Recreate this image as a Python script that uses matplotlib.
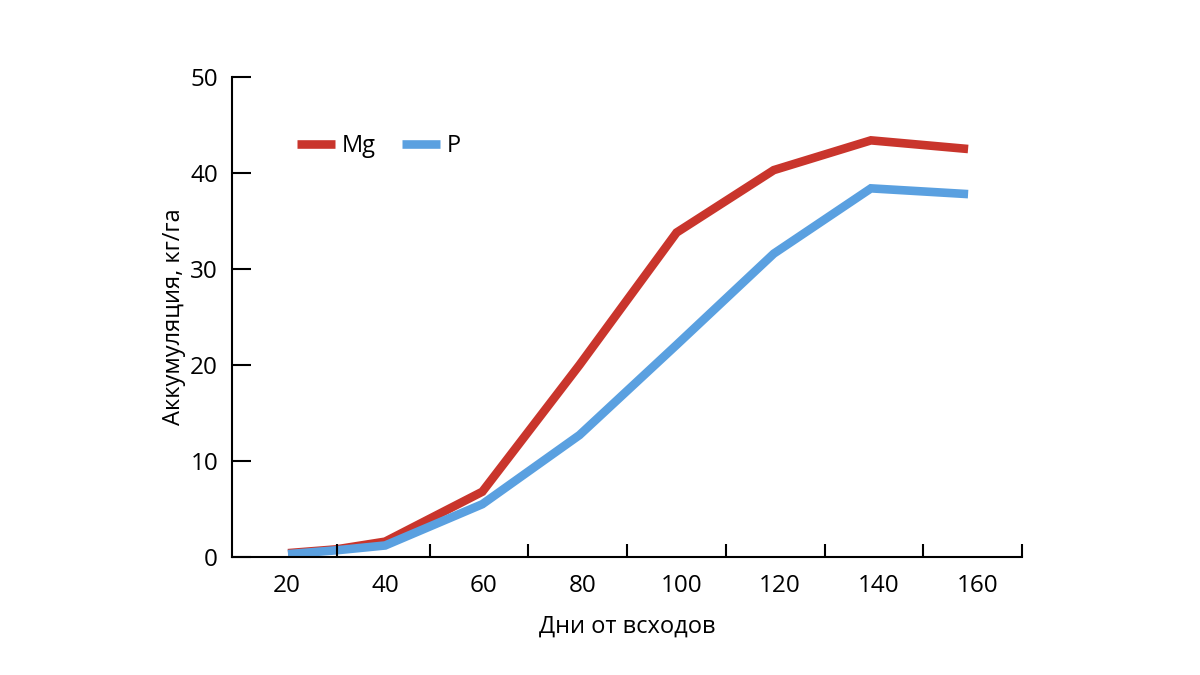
import numpy as np
import matplotlib.pyplot as plt

plt.rcParams['font.family'] = ['Open Sans', 'DejaVu Sans']

days = [20, 30, 40, 60, 80, 100, 120, 140, 160]
mg = [0.4, 0.8, 1.6, 6.8, 20.0, 33.8, 40.3, 43.4, 42.5]
p = [0.3, 0.7, 1.2, 5.5, 12.7, 22.1, 31.6, 38.4, 37.8]
x_labels = ["20", "40", "60", "80", "100", "120", "140", "160"]
y_ticks = [0, 10, 20, 30, 40, 50]

RED = "#C9352C"
BLUE = "#5AA0E0"


def main():
    fig = plt.figure(figsize=(12, 6.75), dpi=100)
    ax = fig.add_axes([232 / 1200, 1 - 557 / 675, 790 / 1200, 480 / 675])

    ax.plot(days, mg, color=RED, lw=6.2, solid_capstyle="butt", solid_joinstyle="miter", label="Mg")
    ax.plot(days, p, color=BLUE, lw=6.2, solid_capstyle="butt", solid_joinstyle="miter", label="P")
    ax.set_xlim(8.47, 171.1)
    ax.set_ylim(0, 50)

    for s in ["top", "right"]:
        ax.spines[s].set_visible(False)
    ax.spines["left"].set_linewidth(1.5)
    ax.spines["bottom"].set_visible(False)
    ax.set_xticks([])
    ax.set_yticks(y_ticks)
    ax.tick_params(axis="y", direction="in", length=14, width=1.5, pad=10, labelsize=17.5)
    ax.set_ylabel("Аккумуляция, кг/га", fontsize=17, labelpad=3)

    # category-style x axis: tick marks between labels
    ax2 = ax.twiny()
    ax2.set_xlim(0, 8)
    ax2.xaxis.set_ticks_position("bottom")
    ax2.xaxis.set_label_position("bottom")
    for s in ["top", "right", "left"]:
        ax2.spines[s].set_visible(False)
    ax2.spines["bottom"].set_linewidth(1.5)
    ax2.set_xticks([1.06, 2, 3, 4, 5, 6, 7, 8])
    ax2.set_xticklabels([])
    ax2.tick_params(axis="x", which="major", direction="in", length=9.5, width=1.5)
    ax2.set_xticks(np.arange(len(x_labels)) + 0.55, minor=True)
    ax2.set_xticklabels(x_labels, minor=True)
    ax2.tick_params(axis="x", which="minor", length=0, pad=12, labelsize=17.5)
    ax2.set_xlabel("Дни от всходов", fontsize=17, labelpad=12)

    ax.legend(loc="upper left", bbox_to_anchor=(297 / 1200, 1 - 134 / 675),
              bbox_transform=fig.transFigure, ncol=2, frameon=False, fontsize=17,
              handlelength=1.6, handletextpad=0.3, columnspacing=1.1,
              borderpad=0, borderaxespad=0)

    fig.savefig("out.png", dpi=100)


if __name__ == "__main__":
    main()
